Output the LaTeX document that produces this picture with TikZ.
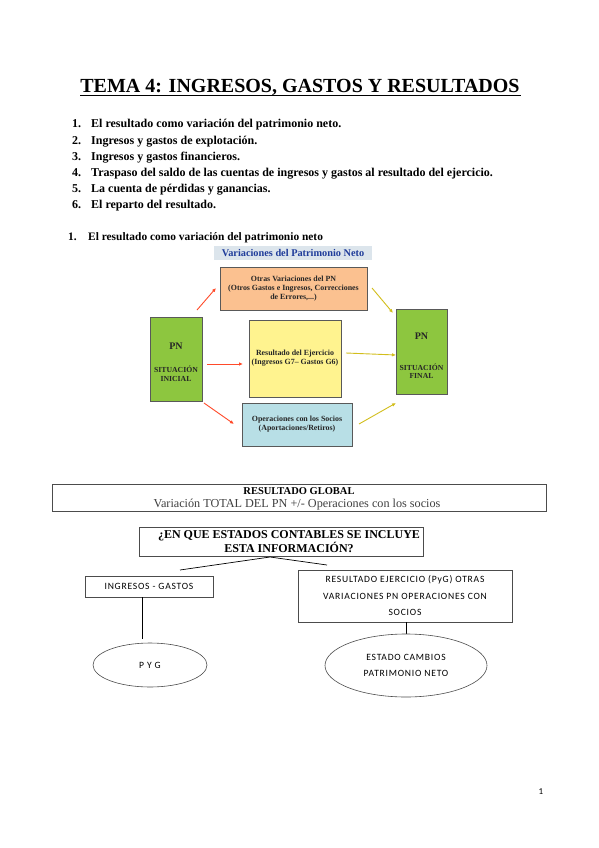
\documentclass[tikz,border=0pt]{standalone}
\usepackage{fontspec}
\setmainfont{Liberation Serif}
\newfontfamily\carl[LetterSpace=8]{Carlito}
\usetikzlibrary{arrows.meta,shapes.geometric}
\definecolor{pngreen}{HTML}{8DC63F}
\definecolor{pnorange}{HTML}{FBC190}
\definecolor{pnyellow}{HTML}{FFF38F}
\definecolor{pnblue}{HTML}{B8DFE6}
\definecolor{lblbg}{HTML}{DCE5EC}
\definecolor{lbltext}{HTML}{1F3C9A}
\definecolor{redarr}{HTML}{FF4A2A}
\definecolor{yelarr}{HTML}{D2BE1C}
\tikzset{
  cbox/.style={draw=black!65, line width=0.9pt, inner sep=0pt, align=center, font=\bfseries\fontsize{7.9}{9}\selectfont, text=black!85},
  redar/.style={draw=redarr, line width=0.9pt, -{Latex[length=4pt,width=3.5pt]}},
  yelar/.style={draw=yelarr, line width=0.9pt, -{Latex[length=4pt,width=3.5pt]}},
  lbox/.style={draw=black!70, line width=0.6pt, inner sep=0pt, align=center},
  sanst/.style={font=\carl\fontsize{9.6}{16.5}\selectfont, align=center},
  conn/.style={draw=black, line width=0.7pt},
  listitem/.style={anchor=base west, inner sep=0pt, font=\bfseries\fontsize{12}{14}\selectfont},
  headitem/.style={anchor=base west, inner sep=0pt, font=\bfseries\fontsize{11.4}{14}\selectfont},
  pnsmall/.style={inner sep=0pt, align=center, font=\bfseries\fontsize{7.7}{8.6}\selectfont, text=black!85},
  pnbig/.style={inner sep=0pt, font=\bfseries\fontsize{10}{12}\selectfont, text=black!85},
}
\begin{document}
\begin{tikzpicture}[x=1pt,y=-1pt]
\useasboundingbox[fill=white] (0,0) rectangle (599,848);
% Title
\node[anchor=base, inner sep=0pt, font=\bfseries\fontsize{20}{24}\selectfont] (title) at (300,93) {TEMA 4: INGRESOS, GASTOS Y RESULTADOS};
\path (title.base west) ++(0,2.6) coordinate (ulA);
\draw[line width=1pt] (ulA) -- ++(441,0) coordinate (ulB);
% List
\foreach \n/\t [count=\i] in {1/El resultado como variación del patrimonio neto.,
  2/Ingresos y gastos de explotación.,
  3/Ingresos y gastos financieros.,
  4/Traspaso del saldo de las cuentas de ingresos y gastos al resultado del ejercicio.,
  5/La cuenta de pérdidas y ganancias.,
  6/El reparto del resultado.}{
  \node[listitem] (num\i) at (72,{112+16*\i}) {\n.};
  \node[listitem] (item\i) at (91,{112+16*\i}) {\t};
}
% Section heading
\node[headitem] (secnum) at (68,240) {1.};
\node[headitem] (sectxt) at (88,240) {El resultado como variación del patrimonio neto};
% Diagram label
\node[fill=lblbg, minimum width=158pt, minimum height=14pt, inner sep=0pt, text=lbltext, font=\bfseries\fontsize{10.3}{12}\selectfont] (lbl) at (293,253) {Variaciones del Patrimonio Neto};
% Boxes
\node[cbox, fill=pnorange, minimum width=147pt, minimum height=43pt] (orange) at (293.5,288.5) {Otras Variaciones del PN\\(Otros Gastos e Ingresos, Correcciones\\de Errores,...)};
\node[cbox, fill=pngreen, minimum width=52pt, minimum height=84pt] (pni) at (176,359) {};
\node[cbox, fill=pnyellow, minimum width=92pt, minimum height=77pt] (yellow) at (295,358.5) {Resultado del Ejercicio\\(Ingresos G7-- Gastos G6)};
\node[cbox, fill=pnblue, minimum width=110pt, minimum height=43pt] (blue) at (297,424.5) {Operaciones con los Socios\\(Aportaciones/Retiros)};
\node[cbox, fill=pngreen, minimum width=51pt, minimum height=85pt] (pnf) at (421.5,351.5) {};
% PN texts
\node[pnbig] (pnit) at (176,346) {PN};
\node[pnsmall] (pnis) at (176,374) {SITUACIÓN\\INICIAL};
\node[pnbig] (pnft) at (421.5,336) {PN};
\node[pnsmall] (pnfs) at (421.5,371) {SITUACIÓN\\FINAL};
% Arrow anchors
\coordinate (r1s) at (197,310); \coordinate (r1e) at (216,288);
\coordinate (r2s) at (207,364); \coordinate (r2e) at (243,364);
\coordinate (r3s) at (204,403); \coordinate (r3e) at (234,424);
\coordinate (y1s) at (372,288); \coordinate (y1e) at (393,313);
\coordinate (y2s) at (346,353); \coordinate (y2e) at (396,355);
\coordinate (y3s) at (359,424); \coordinate (y3e) at (396,403);
\draw[redar] (r1s) -- (r1e);
\draw[redar] (r2s) -- (r2e);
\draw[redar] (r3s) -- (r3e);
\draw[yelar] (y1s) -- (y1e);
\draw[yelar] (y2s) -- (y2e);
\draw[yelar] (y3s) -- (y3e);
% Resultado global
\node[lbox, minimum width=494pt, minimum height=27pt] (global) at (299,497.5) {};
\node[inner sep=0pt, font=\bfseries\fontsize{10.5}{12}\selectfont] (globt) at (299,491) {RESULTADO GLOBAL};
\node[inner sep=0pt, text=black!75, font=\fontsize{12.2}{14}\selectfont] (globs) at (297,504.5) {Variación TOTAL DEL PN +/- Operaciones con los socios};
% Question
\node[lbox, minimum width=284pt, minimum height=29pt] (quest) at (281,542) {};
\node[inner sep=0pt, align=center, font=\bfseries\fontsize{12}{14}\selectfont] (questt) at (289,542) {¿EN QUE ESTADOS CONTABLES SE INCLUYE\\ESTA INFORMACIÓN?};
\coordinate (jn) at (270,557);
\coordinate (jl) at (180,570);
\coordinate (jr) at (327,565);
\draw[conn] (jl) -- (jn) -- (jr);
% Left branch
\node[lbox, minimum width=128pt, minimum height=21pt, sanst] (ingr) at (149,586.5) {INGRESOS - GASTOS};
\coordinate (ingrb) at (142,597);
\coordinate (pygt) at (142,639);
\draw[conn] (ingrb) -- (pygt);
\node[ellipse, draw=black!70, line width=0.6pt, minimum width=114pt, minimum height=44pt, inner sep=0pt, sanst] (pyg) at (150,665) {P Y G};
% Right branch
\node[lbox, minimum width=214pt, minimum height=52pt, sanst] (resej) at (405,596) {RESULTADO EJERCICIO (PyG) OTRAS\\VARIACIONES PN OPERACIONES CON\\SOCIOS};
\coordinate (resejb) at (406,622);
\coordinate (ecpnt) at (406,634);
\draw[conn] (resejb) -- (ecpnt);
\node[ellipse, draw=black!70, line width=0.6pt, minimum width=162pt, minimum height=63pt, inner sep=0pt, sanst] (ecpn) at (406,665.5) {ESTADO CAMBIOS\\PATRIMONIO NETO};
% page number
\node[inner sep=0pt, font=\carl\fontsize{9}{10}\selectfont] (pnum) at (541,792) {1};
\end{tikzpicture}
\end{document}
